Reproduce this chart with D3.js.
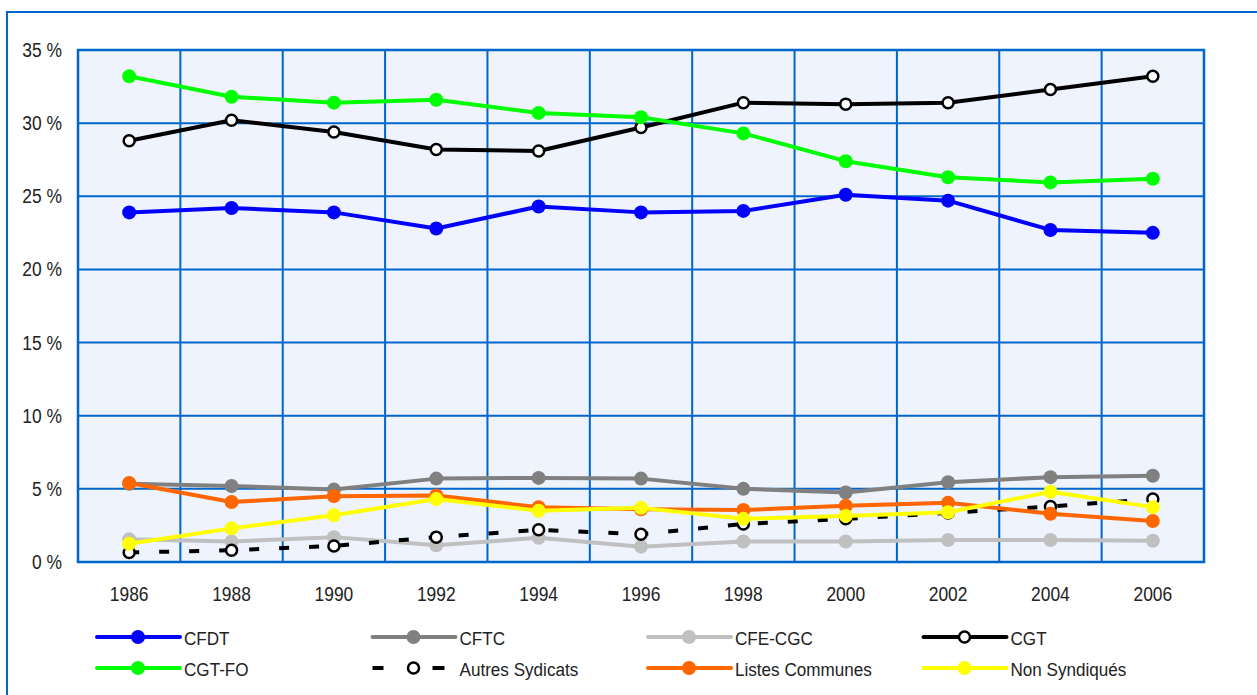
<!DOCTYPE html>
<html>
<head>
<meta charset="utf-8">
<script src="https://cdn.jsdelivr.net/npm/d3@7"></script>
<style>
  body { margin: 0; background: #fff; }
  svg text { font-family: "Liberation Sans Narrow", "Arial Narrow", "Liberation Sans", Arial, sans-serif; fill: #222; }
</style>
</head>
<body>
<div id="chart"></div>
<script>
const years = ["1986", "1988", "1990", "1992", "1994", "1996", "1998", "2000", "2002", "2004", "2006"];
const yTicks = [0, 5, 10, 15, 20, 25, 30, 35];

const cfdt = [23.9, 24.2, 23.9, 22.8, 24.3, 23.9, 24.0, 25.1, 24.7, 22.7, 22.5];
const cftc = [5.35, 5.2, 4.95, 5.7, 5.75, 5.7, 5.0, 4.75, 5.45, 5.8, 5.9];
const cfeCgc = [1.55, 1.4, 1.7, 1.15, 1.65, 1.05, 1.4, 1.4, 1.5, 1.5, 1.45];
const cgt = [28.8, 30.2, 29.4, 28.2, 28.1, 29.7, 31.4, 31.3, 31.4, 32.3, 33.2];
const cgtFo = [33.2, 31.8, 31.4, 31.6, 30.7, 30.4, 29.3, 27.4, 26.3, 25.95, 26.2];
const autres = [0.65, 0.8, 1.1, 1.7, 2.2, 1.9, 2.6, 2.95, 3.35, 3.8, 4.3];
const listes = [5.4, 4.1, 4.5, 4.55, 3.75, 3.6, 3.55, 3.85, 4.05, 3.3, 2.8];
const nonSynd = [1.25, 2.3, 3.2, 4.3, 3.5, 3.7, 2.95, 3.15, 3.4, 4.8, 3.75];

const seriesNames = ["CFDT", "CFTC", "CFE-CGC", "CGT", "CGT-FO", "Autres Sydicats", "Listes Communes", "Non Syndiqués"];
const seriesValues = [cfdt, cftc, cfeCgc, cgt, cgtFo, autres, listes, nonSynd];
const seriesColors = ["#0000ff", "#808080", "#c0c0c0", "#000000", "#00ff00", "#000000", "#ff6600", "#ffff00"];
// marker: filled dot, or open ring
const seriesOpen = [false, false, false, true, false, true, false, false];
const seriesDashed = [false, false, false, false, false, true, false, false];

const width = 1257, height = 695;
const plot = { left: 78, top: 50, right: 1204, bottom: 562 };
const gridColor = "#0066cc";
const squeeze = 0.87; // the original font is a bit condensed

const svg = d3.select("#chart").append("svg")
  .attr("width", width)
  .attr("height", height);

// outer frame
svg.append("rect")
  .attr("x", 7).attr("y", 12)
  .attr("width", 1270).attr("height", 710)
  .attr("fill", "none")
  .attr("stroke", gridColor)
  .attr("stroke-width", 2);

const x = d3.scaleBand()
  .domain(years)
  .range([plot.left, plot.right]);

const y = d3.scaleLinear()
  .domain([0, 35])
  .range([plot.bottom, plot.top]);

// plot background
svg.append("rect")
  .attr("x", plot.left).attr("y", plot.top)
  .attr("width", plot.right - plot.left)
  .attr("height", plot.bottom - plot.top)
  .attr("fill", "#eef3fd");

// horizontal grid
svg.append("g")
  .selectAll("line")
  .data(yTicks)
  .enter()
  .append("line")
  .attr("x1", plot.left).attr("x2", plot.right)
  .attr("y1", d => y(d)).attr("y2", d => y(d))
  .attr("stroke", gridColor)
  .attr("stroke-width", 2);

// vertical grid at category boundaries
svg.append("g")
  .selectAll("line")
  .data(years.slice(1))
  .enter()
  .append("line")
  .attr("x1", d => x(d)).attr("x2", d => x(d))
  .attr("y1", plot.top).attr("y2", plot.bottom)
  .attr("stroke", gridColor)
  .attr("stroke-width", 2);

svg.append("rect")
  .attr("x", plot.left).attr("y", plot.top)
  .attr("width", plot.right - plot.left)
  .attr("height", plot.bottom - plot.top)
  .attr("fill", "none")
  .attr("stroke", gridColor)
  .attr("stroke-width", 2.5);

// y labels
svg.append("g")
  .selectAll("text")
  .data(yTicks)
  .enter()
  .append("text")
  .attr("transform", d => `translate(62, ${y(d) + 7}) scale(${squeeze}, 1)`)
  .attr("text-anchor", "end")
  .style("font-size", "20px")
  .text(d => d + " %");

// x labels
svg.append("g")
  .selectAll("text")
  .data(years)
  .enter()
  .append("text")
  .attr("transform", d => `translate(${x(d) + x.bandwidth() / 2}, 601) scale(${squeeze}, 1)`)
  .attr("text-anchor", "middle")
  .style("font-size", "20px")
  .text(d => d);

const line = d3.line()
  .x((d, i) => x(years[i]) + x.bandwidth() / 2)
  .y(d => y(d));

seriesValues.forEach((vals, s) => {
  const g = svg.append("g");
  g.append("path")
    .datum(vals)
    .attr("d", line)
    .attr("fill", "none")
    .attr("stroke", seriesColors[s])
    .attr("stroke-width", 4)
    .attr("stroke-dasharray", seriesDashed[s] ? "10,20" : null)
    .attr("stroke-linejoin", "round");

  g.selectAll("circle")
    .data(vals)
    .enter()
    .append("circle")
    .attr("cx", (d, i) => x(years[i]) + x.bandwidth() / 2)
    .attr("cy", d => y(d))
    .attr("r", seriesOpen[s] ? 5.5 : 7)
    .attr("fill", seriesOpen[s] ? "#ffffff" : seriesColors[s])
    .attr("stroke", seriesOpen[s] ? seriesColors[s] : "none")
    .attr("stroke-width", 2.5);
});

// legend
const legend = svg.append("g");
const legendItem = legend.selectAll(".legend-item")
  .data(seriesNames)
  .enter()
  .append("g")
  .attr("class", "legend-item")
  .attr("transform", (d, i) => `translate(${97 + (i % 4) * 275.5}, ${i < 4 ? 637 : 668})`);

legendItem.append("line")
  .attr("x1", 0).attr("x2", 83)
  .attr("y1", 0).attr("y2", 0)
  .attr("stroke", (d, i) => seriesColors[i])
  .attr("stroke-width", 4)
  .attr("stroke-linecap", (d, i) => seriesDashed[i] ? "butt" : "round")
  .attr("stroke-dasharray", (d, i) => seriesDashed[i] ? "11,49,12,30" : null);

legendItem.append("circle")
  .attr("cx", 41).attr("cy", 0)
  .attr("r", (d, i) => seriesOpen[i] ? 5.5 : 7)
  .attr("fill", (d, i) => seriesOpen[i] ? "#ffffff" : seriesColors[i])
  .attr("stroke", (d, i) => seriesOpen[i] ? seriesColors[i] : "none")
  .attr("stroke-width", 2.5);

legendItem.append("text")
  .attr("transform", `translate(87, 8) scale(0.9, 1)`)
  .style("font-size", "19px")
  .text(d => d);
</script>
</body>
</html>
